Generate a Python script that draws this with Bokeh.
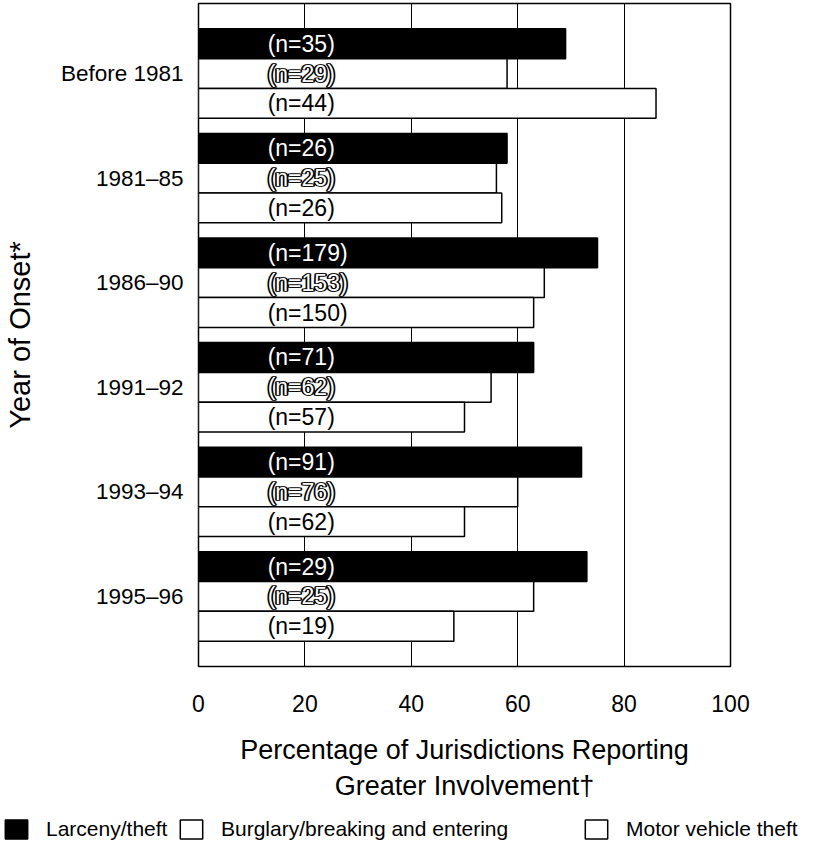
from bokeh.plotting import figure
from bokeh.models import FactorRange, Range1d, FixedTicker, Legend, LegendItem, ColumnDataSource
from bokeh.transform import dodge
from bokeh.core.properties import value
from bokeh.layouts import column
from bokeh.embed import file_html
from bokeh.resources import INLINE

categories = ["Before 1981", "1981–85", "1986–90", "1991–92", "1993–94", "1995–96"]
larceny = [69, 58, 75, 63, 72, 73]
burglary = [58, 56, 65, 55, 60, 63]
motor = [86, 57, 63, 50, 50, 48]
larceny_n = [35, 26, 179, 71, 91, 29]
burglary_n = [29, 25, 153, 62, 76, 25]
motor_n = [44, 26, 150, 57, 62, 19]
x_ticks = [0, 20, 40, 60, 80, 100]
series_names = ["Larceny/theft", "Burglary/breaking and entering", "Motor vehicle theft"]
series_fills = ["black", "white", "white"]

FONT = "Liberation Sans"
LABEL_X = 13
BAR_H = 0.285

src = ColumnDataSource(dict(
    cat=categories,
    larceny=larceny, burglary=burglary, motor=motor,
    larceny_lbl=[f"(n={v})" for v in larceny_n],
    burglary_lbl=[f"(n={v})" for v in burglary_n],
    motor_lbl=[f"(n={v})" for v in motor_n],
    lx=[LABEL_X] * len(categories),
))

p = figure(
    y_range=FactorRange(factors=categories[::-1], range_padding=0.17,
                        range_padding_units="absolute"),
    x_range=Range1d(0, 100),
    frame_width=532, frame_height=663,
    min_border_left=193, min_border_right=76, min_border_top=3, min_border_bottom=146,
    output_backend="svg", toolbar_location=None,
)

p.background_fill_color = "white"
p.border_fill_color = "white"
p.outline_line_color = "black"
p.outline_line_width = 1.5

# grid
p.ygrid.grid_line_color = None
p.xgrid.ticker = FixedTicker(ticks=x_ticks)
p.xgrid.grid_line_color = "black"
p.xgrid.grid_line_width = 1

# axes
p.xaxis.ticker = FixedTicker(ticks=x_ticks)
for ax in (p.xaxis[0], p.yaxis[0]):
    ax.axis_line_color = None
    ax.major_tick_line_color = None
    ax.minor_tick_line_color = None
    ax.major_tick_out = 0
    ax.major_tick_in = 0
    ax.major_label_text_font = FONT
    ax.major_label_text_font_size = "23px"
    ax.major_label_text_color = "black"
    ax.axis_label_text_font = FONT
    ax.axis_label_text_font_style = "normal"
    ax.axis_label_text_color = "black"

p.yaxis.major_label_text_font_size = "22.5px"
p.xaxis.major_label_standoff = 28
p.yaxis.major_label_standoff = 15
p.xaxis.axis_label = "Percentage of Jurisdictions Reporting\nGreater Involvement†"
p.xaxis.axis_label_text_font_size = "27px"
p.xaxis.axis_label_standoff = 20
p.yaxis.axis_label = "Year of Onset*"
p.yaxis.axis_label_text_font_size = "29px"
p.yaxis.axis_label_standoff = 22

# bars
p.hbar(y=dodge("cat", BAR_H, range=p.y_range), left=0, right="larceny", height=BAR_H,
       source=src, fill_color=series_fills[0], line_color="black", line_width=1.5)
p.hbar(y=dodge("cat", 0, range=p.y_range), left=0, right="burglary", height=BAR_H,
       source=src, fill_color=series_fills[1], line_color="black", line_width=1.5)
p.hbar(y=dodge("cat", -BAR_H, range=p.y_range), left=0, right="motor", height=BAR_H,
       source=src, fill_color=series_fills[2], line_color="black", line_width=1.5)

common = dict(source=src, text_font=value(FONT), text_font_size="23px",
              text_align="left", text_baseline="middle")
p.text(x="lx", y=dodge("cat", BAR_H, range=p.y_range), text="larceny_lbl",
       text_color="white", **common)
# outlined (hollow) labels: black outline layers, then white fill on top
for dx in (-1, 1):
    p.text(x="lx", y=dodge("cat", 0, range=p.y_range), text="burglary_lbl",
           text_color="black", text_outline_color="black", x_offset=dx, **common)
p.text(x="lx", y=dodge("cat", 0, range=p.y_range), text="burglary_lbl",
       text_color="white", **common)
p.text(x="lx", y=dodge("cat", -BAR_H, range=p.y_range), text="motor_lbl",
       text_color="black", **common)

# legend strip: its own small figure below the chart
lf = figure(width=801, height=31, min_border=0, x_axis_type=None, y_axis_type=None,
            x_range=Range1d(0, 1), y_range=Range1d(0, 1),
            output_backend="svg", toolbar_location=None)
if hasattr(lf, "frame_align"):
    lf.frame_align = False
lf.outline_line_color = None
lf.grid.visible = False
lf.background_fill_color = "white"
lf.border_fill_color = "white"

legend_x = [2, 177, 582]
for name, fill, lx in zip(series_names, series_fills, legend_x):
    # key swatch renderer (kept outside the visible range of the strip)
    r = lf.hbar(y=[-5], left=[0], right=[0], height=0.1, fill_color=fill,
                line_color="black", line_width=1.5)
    lg = Legend(items=[LegendItem(label=name, renderers=[r])], location=(lx, 2),
                orientation="horizontal", border_line_color=None,
                background_fill_alpha=0, padding=0, margin=0,
                glyph_width=28, glyph_height=24, label_standoff=16,
                label_text_font=FONT, label_text_font_size="21px",
                label_text_color="black", label_height=24)
    lf.add_layout(lg, "center")

layout = column(p, lf, spacing=0)
open("out.html", "w").write(file_html(layout, INLINE))
